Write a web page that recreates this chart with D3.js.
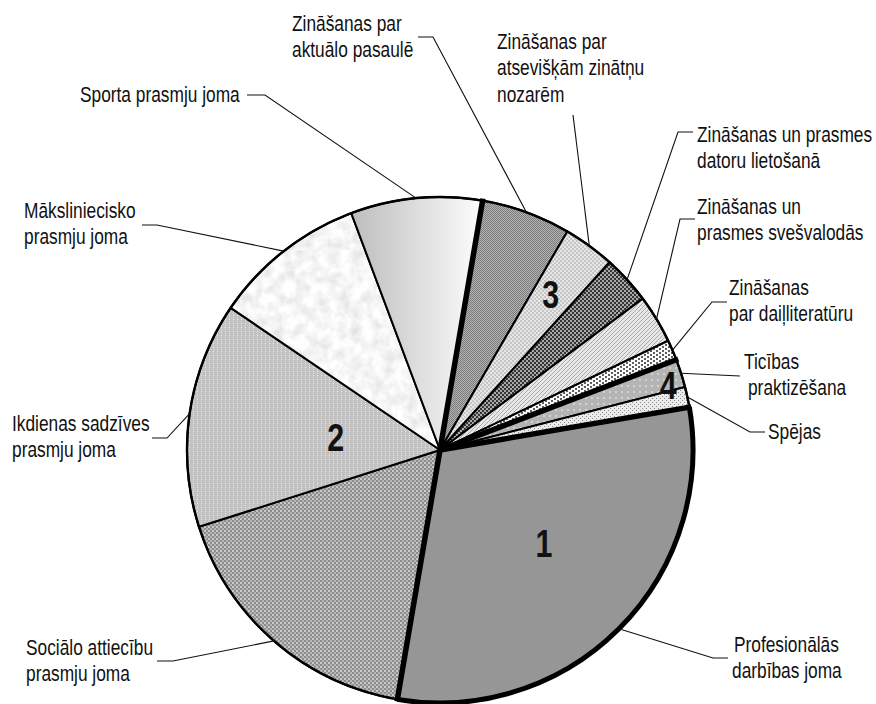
<!DOCTYPE html>
<html><head><meta charset="utf-8">
<script src="https://cdn.jsdelivr.net/npm/d3@7"></script>
<style>
body{margin:0;background:#fff;}
svg text{font-family:"Liberation Sans",Arial,sans-serif;fill:#111;}
</style></head><body>
<svg id="chart" width="876" height="704"></svg>
<script>
// ---- data ----
const categories = [
  "Zināšanas par aktuālo pasaulē",
  "Zināšanas par atsevišķām zinātņu nozarēm",
  "Zināšanas un prasmes datoru lietošanā",
  "Zināšanas un prasmes svešvalodās",
  "Zināšanas par daiļliteratūru",
  "Ticības praktizēšana",
  "Spējas",
  "Profesionālās darbības joma",
  "Sociālo attiecību prasmju joma",
  "Ikdienas sadzīves prasmju joma",
  "Māksliniecisko prasmju joma",
  "Sporta prasmju joma"
];
const values = [5.7, 3.3, 3.1, 3.1, 1.3, 1.8, 1.3, 30.4, 17.4, 14.4, 9.8, 8.4];
const groups = [3, 3, 3, 3, 3, 4, 4, 1, 2, 2, 2, 2];
const groupLabels = ["1", "2", "3", "4"];
const labelLines = [
  ["Zināšanas par", "aktuālo pasaulē"],
  ["Zināšanas par", "atsevišķām zinātņu", "nozarēm"],
  ["Zināšanas un prasmes", "datoru lietošanā"],
  ["Zināšanas un", "prasmes svešvalodās"],
  ["Zināšanas", "par daiļliteratūru"],
  ["Ticības", "praktizēšana"],
  ["Spējas"],
  ["Profesionālās", "darbības joma"],
  ["Sociālo attiecību", "prasmju joma"],
  ["Ikdienas sadzīves", "prasmju joma"],
  ["Māksliniecisko", "prasmju joma"],
  ["Sporta prasmju joma"]
];

// ---- layout (positions / styles) ----
const cx = 440, cy = 450, R = 253;
const deg = Math.PI / 180;
const startDeg = 9.7;
const lineH = 26.5;
const narrow = 0.77;
const labelLayout = [
  {x:[292], y:31,  elbow:[[418,37],[433,37]]},
  {x:[497], y:49,  elbow:[[573,115]]},
  {x:[697], y:142, elbow:[[693,132],[678,132]]},
  {x:[697], y:214, elbow:[[695,219],[680,219]]},
  {x:[729], y:295, elbow:[[727,302],[712,302]]},
  {x:[744,748], y:369, elbow:[[740,376]]},
  {x:[768], y:439, elbow:[[765,432],[750,432]]},
  {x:[734,732], y:652, elbow:[[728,658],[713,658]]},
  {x:[26], y:655, elbow:[[157,661],[173,661]]},
  {x:[12], y:431, elbow:[[152,438],[167,438]]},
  {x:[24], y:218, elbow:[[142,225],[157,225]]},
  {x:[80], y:102, elbow:[[247,95],[265,95]]}
];
const groupLabelPos = { // angle offset (deg) from group mid-angle, radius
  1:{da:-3, r:140}, 2:{da:-3, r:105}, 3:{da:-4, r:191}, 4:{da:-0.4, r:237}
};

const svg = d3.select("#chart");
const defs = svg.append("defs");

function pattern(id, w, h, bg, rects){
  const p = defs.append("pattern").attr("id", id).attr("patternUnits","userSpaceOnUse")
    .attr("width", w).attr("height", h);
  p.append("rect").attr("width", w).attr("height", h).attr("fill", bg);
  rects.forEach(r => p.append("rect").attr("x", r[0]).attr("y", r[1])
    .attr("width", r[2]).attr("height", r[3]).attr("fill", r[4]));
}
pattern("p0", 2, 2, "#b2b2b2", [[0,0,1,1,"#7c7c7c"],[1,1,1,1,"#7c7c7c"]]);
pattern("p1", 4, 4, "#c6c6c6", [[0,0,2,2,"#e6e6e6"],[2,2,2,2,"#e6e6e6"]]);
pattern("p2", 4, 4, "#353535", [[0,0,2,2,"#a8a8a8"],[2,2,2,2,"#a8a8a8"]]);
pattern("p3", 4, 4, "#e8e8e8", [[0,3,1,1,"#a8a8a8"],[1,2,1,1,"#a8a8a8"],[2,1,1,1,"#a8a8a8"],[3,0,1,1,"#a8a8a8"]]);
pattern("p4", 6, 4, "#fbfbfb", [[0,0,2,2,"#5e5e5e"],[3,2,2,2,"#5e5e5e"]]);
pattern("p5", 6, 6, "#b4b4b4", [[1,1,2,2,"#d2d2d2"]]);
pattern("p6", 4, 4, "#ebebeb", [[0,0,1,1,"#8c8c8c"],[2,2,1,1,"#8c8c8c"]]);
pattern("p7", 4, 4, "#969696", []);
pattern("p8", 4, 4, "#8c8c8c", [[0,0,2,2,"#cacaca"],[2,2,2,2,"#b6b6b6"]]);
pattern("p9", 4, 4, "#c2c2c2", [[1,1,1,1,"#eeeeee"],[1,3,1,1,"#dcdcdc"]]);

// granite texture
const f = defs.append("filter").attr("id","granite").attr("x",0).attr("y",0).attr("width",1).attr("height",1);
f.append("feTurbulence").attr("type","fractalNoise").attr("baseFrequency",0.09).attr("numOctaves",4).attr("seed",4);
f.append("feColorMatrix").attr("type","matrix")
  .attr("values","0.42 0 0 0 0.71  0.42 0 0 0 0.71  0.42 0 0 0 0.71  0 0 0 0 1");
const pg = defs.append("pattern").attr("id","p10").attr("patternUnits","userSpaceOnUse")
  .attr("width",200).attr("height",200);
pg.append("rect").attr("width",200).attr("height",200).attr("fill","#ececec").attr("filter","url(#granite)");

// gradient
const lg = defs.append("linearGradient").attr("id","p11").attr("x1",0).attr("y1",0).attr("x2",1).attr("y2",0);
lg.append("stop").attr("offset","0%").attr("stop-color","#bdbdbd");
lg.append("stop").attr("offset","100%").attr("stop-color","#fdfdfd");

const fills = categories.map((c, i) => `url(#p${i})`);

const pie = d3.pie().sort(null).value(d => d)
  .startAngle(startDeg * deg).endAngle(startDeg * deg + 2 * Math.PI);
const arcs = pie(values);
const arc = d3.arc().innerRadius(0).outerRadius(R);
const edgeArc = d3.arc().innerRadius(R).outerRadius(R);

const g = svg.append("g").attr("transform", `translate(${cx},${cy})`);

g.selectAll("path.slice").data(arcs).join("path").attr("class","slice")
  .attr("d", arc).attr("fill", (d, i) => fills[i])
  .attr("stroke", "#000").attr("stroke-width", 2).attr("stroke-linejoin","round");

// outer circle
g.append("circle").attr("r", R).attr("fill","none").attr("stroke","#000").attr("stroke-width",2.4);

// thick outline of group 1 arc
arcs.forEach((a, i) => {
  if (groups[i] === 1) {
    g.append("path").attr("d", d3.arc().innerRadius(R).outerRadius(R)
        .startAngle(a.startAngle).endAngle(a.endAngle)())
      .attr("fill","none").attr("stroke","#000").attr("stroke-width",5);
  }
});

// thick group separators
arcs.forEach((a, i) => {
  const prev = groups[(i - 1 + groups.length) % groups.length];
  if (prev !== groups[i]) {
    const ang = a.startAngle;
    g.append("line").attr("x1",0).attr("y1",0)
      .attr("x2", (R + 2) * Math.sin(ang)).attr("y2", -(R + 2) * Math.cos(ang))
      .attr("stroke","#000").attr("stroke-width",5.5).attr("stroke-linecap","butt");
  }
});

// group number labels
groupLabels.forEach((lab, k) => {
  const gid = k + 1;
  const idx = groups.map((gg, i) => gg === gid ? i : -1).filter(i => i >= 0);
  const s = arcs[idx[0]].startAngle, e = arcs[idx[idx.length - 1]].endAngle;
  const mid = (s + e) / 2 + groupLabelPos[gid].da * deg;
  const r = groupLabelPos[gid].r;
  g.append("g").attr("transform", `translate(${r * Math.sin(mid)},${-r * Math.cos(mid)}) scale(0.8,1)`)
    .append("text").attr("dy","0.36em").attr("text-anchor","middle")
    .style("font-size","38px").style("font-weight","bold").text(lab);
});

// leaders
const line = d3.line();
arcs.forEach((a, i) => {
  const c = edgeArc.centroid(a);
  const pts = labelLayout[i].elbow.map(p => [p[0] - cx, p[1] - cy]).concat([c]);
  g.append("path").attr("d", line(pts)).attr("fill","none").attr("stroke","#111").attr("stroke-width",1.1);
});

// labels
labelLines.forEach((lines, i) => {
  const L = labelLayout[i];
  const x0 = L.x[0];
  const t = svg.append("g").attr("transform", `translate(${x0},${L.y}) scale(${narrow},1)`)
    .append("text").style("font-size","22.5px");
  lines.forEach((ln, j) => {
    const xj = L.x[Math.min(j, L.x.length - 1)];
    t.append("tspan").attr("x", (xj - x0) / narrow).attr("y", j * lineH).text(ln);
  });
});
</script>
</body></html>
